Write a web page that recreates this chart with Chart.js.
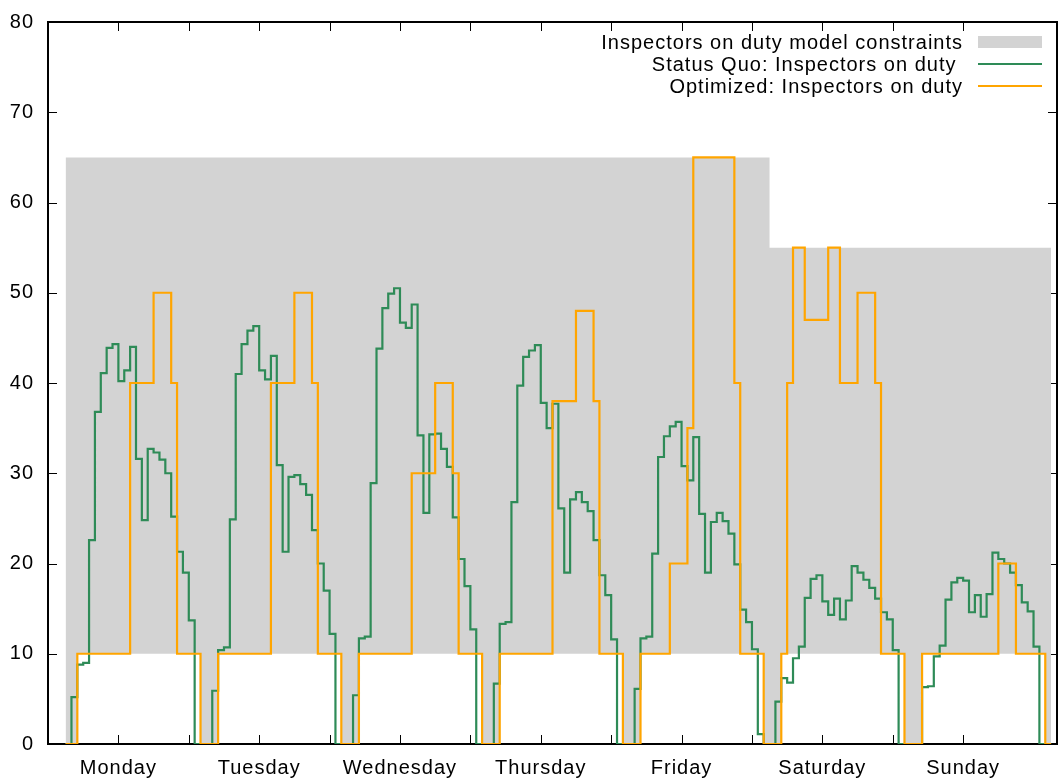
<!DOCTYPE html>
<html>
<head>
<meta charset="utf-8">
<script src="https://cdn.jsdelivr.net/npm/chart.js@4/dist/chart.umd.min.js"></script>
<style>
  html, body { margin: 0; padding: 0; background: #fff; }
  #wrap { width: 1058px; height: 778px; }
</style>
</head>
<body>
<div id="wrap"><canvas id="chart" width="1058" height="778"></canvas></div>
<script>
// hours since Monday 00:00, one value per hour starting at firstHour
var days = ['Monday', 'Tuesday', 'Wednesday', 'Thursday', 'Friday', 'Saturday', 'Sunday'];
var firstHour = 3;

var statusQuo = [
    0, 5.2, 8.8, 9.0, 22.6, 36.8, 41.1, 43.9, 44.3, 40.2, 41.4, 44.0, 31.6, 24.8, 32.7, 32.3,
    31.5, 30.0, 25.2, 21.3, 19.0, 13.7, 0, 0, 0, 5.9, 10.4, 10.7, 24.9, 41.0, 44.3, 45.8,
    46.3, 41.4, 40.4, 43.0, 30.9, 21.3, 29.6, 29.8, 28.8, 27.6, 23.7, 20.0, 17.0, 12.2, 0, 0,
    0, 5.4, 11.7, 11.9, 28.9, 43.8, 48.3, 49.9, 50.5, 46.7, 46.1, 48.7, 34.2, 25.6, 34.3, 34.4,
    32.7, 30.7, 25.1, 20.5, 17.5, 12.7, 0, 0, 0, 6.7, 13.3, 13.5, 26.8, 39.7, 42.9, 43.6,
    44.2, 37.8, 35.0, 37.7, 26.1, 19.0, 27.1, 27.9, 26.8, 25.8, 22.6, 18.7, 16.5, 11.6, 0, 0,
    0, 6.1, 11.7, 11.9, 21.1, 31.8, 34.1, 35.2, 35.7, 30.8, 29.2, 34.0, 25.5, 19.0, 24.6, 25.6,
    24.7, 23.3, 19.9, 14.9, 13.5, 10.5, 1.1, 0, 0, 4.7, 7.3, 6.8, 9.5, 10.8, 16.2, 18.3,
    18.7, 15.8, 14.3, 16.1, 13.8, 15.9, 19.7, 19.0, 18.2, 17.3, 16.1, 14.6, 13.8, 10.4, 0, 0,
    0, 0, 6.3, 6.4, 9.7, 10.9, 16.0, 17.9, 18.4, 18.1, 14.6, 16.5, 14.1, 16.6, 21.2, 20.5,
    20.0, 19.0, 17.6, 15.7, 14.7, 10.8, 0, 0
];

// optimized plan: value holds from optHours[i] until optHours[i+1]
var optHours = [3, 5, 14, 18, 21, 22, 26, 29, 38, 42, 45, 46, 50, 53, 62, 66, 69, 70, 74,
    77, 86, 90, 93, 94, 98, 101, 106, 109, 110, 117, 118, 122, 125, 126, 127, 129, 133, 135,
    138, 141, 142, 146, 149, 162, 165, 170, 171];
var optValues = [0, 10, 40, 50, 40, 10, 0, 10, 40, 50, 40, 10, 0, 10, 30, 40, 30, 10, 0,
    10, 38, 48, 38, 10, 0, 10, 20, 35, 65, 40, 10, 0, 10, 40, 55, 47, 55, 40,
    50, 40, 10, 0, 10, 20, 10, 0, 0];

// model constraints (band between min and max)
var bandHours = [3, 5, 26, 29, 50, 53, 74, 77, 98, 101, 122, 123, 125, 146, 149, 170, 171];
var bandMax = [65, 65, 65, 65, 65, 65, 65, 65, 65, 65, 65, 55, 55, 55, 55, 55, 55];
var bandMin = [0, 10, 0, 10, 0, 10, 0, 10, 0, 10, 0, 0, 10, 0, 10, 0, 0];

var pts = function (xs, ys) {
    return xs.map(function (x, i) { return {x: x, y: ys[i]}; });
};

var sqHours = statusQuo.map(function (v, i) { return firstHour + i; });
var sqPoints = pts(sqHours, statusQuo);
sqPoints.push({x: firstHour + statusQuo.length, y: statusQuo[statusQuo.length - 1]});

var FONT = "'Liberation Sans', Arial, sans-serif";
Chart.defaults.font.family = FONT;
Chart.defaults.font.size = 20;
Chart.defaults.color = '#000';

// gnuplot style box with inward ticks on all four sides
var framePlugin = {
    id: 'frame',
    beforeDraw: function (chart) {
        chart.ctx.letterSpacing = '1px';
    },
    beforeDatasetsDraw: function (chart) {
        var ctx = chart.ctx, a = chart.chartArea, x = chart.scales.x, y = chart.scales.y;
        ctx.save();
        ctx.strokeStyle = '#000';
        ctx.lineWidth = 1;
        ctx.beginPath();
        x.ticks.forEach(function (t) {
            if (t.value <= x.min || t.value >= x.max) return;
            var px = Math.round(x.getPixelForValue(t.value)) + 0.5;
            ctx.moveTo(px, a.bottom); ctx.lineTo(px, a.bottom - 9);
            ctx.moveTo(px, a.top); ctx.lineTo(px, a.top + 9);
        });
        y.ticks.forEach(function (t) {
            if (t.value <= y.min || t.value >= y.max) return;
            var py = Math.round(y.getPixelForValue(t.value)) + 0.5;
            ctx.moveTo(a.left, py); ctx.lineTo(a.left + 9, py);
            ctx.moveTo(a.right, py); ctx.lineTo(a.right - 9, py);
        });
        ctx.stroke();
        ctx.lineWidth = 2;
        ctx.strokeRect(a.left, a.top, a.right - a.left, a.bottom - a.top);
        ctx.restore();
    },
    afterDraw: function (chart) {
        // key in the top right corner, text right aligned, sample on the right
        var ctx = chart.ctx, a = chart.chartArea;
        var rowY = a.top + 20;
        ctx.save();
        ctx.letterSpacing = '1px';
        ctx.font = '20px ' + FONT;
        ctx.textAlign = 'right';
        ctx.textBaseline = 'middle';
        chart.data.datasets.forEach(function (ds) {
            if (!ds.keyStyle) return;
            ctx.fillStyle = '#000';
            ctx.fillText(ds.label, a.right - 94, rowY + 1);
            if (ds.keyStyle === 'box') {
                ctx.fillStyle = ds.backgroundColor;
                ctx.fillRect(a.right - 79, rowY - 6, 64, 12);
            } else {
                ctx.strokeStyle = ds.borderColor;
                ctx.lineWidth = 2;
                ctx.beginPath();
                ctx.moveTo(a.right - 79, rowY);
                ctx.lineTo(a.right - 15, rowY);
                ctx.stroke();
            }
            rowY += 22;
        });
        ctx.restore();
    }
};

new Chart(document.getElementById('chart'), {
    type: 'line',
    data: {
        datasets: [{
            label: 'Inspectors on duty model constraints',
            keyStyle: 'box',
            data: pts(bandHours, bandMax),
            stepped: 'before',
            borderColor: 'rgba(0,0,0,0)',
            backgroundColor: '#d3d3d3',
            fill: '+1',
            pointRadius: 0,
            order: 3
        }, {
            label: 'constraint min',
            data: pts(bandHours, bandMin),
            stepped: 'before',
            borderColor: 'rgba(0,0,0,0)',
            fill: false,
            pointRadius: 0,
            order: 4
        }, {
            label: 'Status Quo: Inspectors on duty ',
            keyStyle: 'line',
            data: sqPoints,
            stepped: 'before',
            borderColor: '#2e8b57',
            borderWidth: 2.2,
            fill: false,
            pointRadius: 0,
            order: 2
        }, {
            label: 'Optimized: Inspectors on duty',
            keyStyle: 'line',
            data: pts(optHours, optValues),
            stepped: 'before',
            borderColor: '#ffa500',
            borderWidth: 2.2,
            fill: false,
            pointRadius: 0,
            order: 1
        }]
    },
    options: {
        responsive: false,
        animation: false,
        events: [],
        layout: {padding: {top: 22, right: 1, left: 0, bottom: 0}},
        plugins: {
            legend: {display: false},
            tooltip: {enabled: false}
        },
        scales: {
            x: {
                type: 'linear',
                min: 0,
                max: 172,
                grid: {display: false, tickLength: 12},
                border: {display: false},
                afterFit: function (s) { s.height = 34; },
                ticks: {
                    stepSize: 12,
                    autoSkip: false,
                    maxRotation: 0,
                    padding: 0,
                    callback: function (v) {
                        if ((v - 12) % 24 === 0) return days[(v - 12) / 24];
                        return '';
                    }
                }
            },
            y: {
                min: 0,
                max: 80,
                grid: {display: false, tickLength: 8},
                border: {display: false},
                afterFit: function (s) { s.width = 48; },
                ticks: {stepSize: 10, padding: 6}
            }
        }
    },
    plugins: [framePlugin]
});
</script>
</body>
</html>
